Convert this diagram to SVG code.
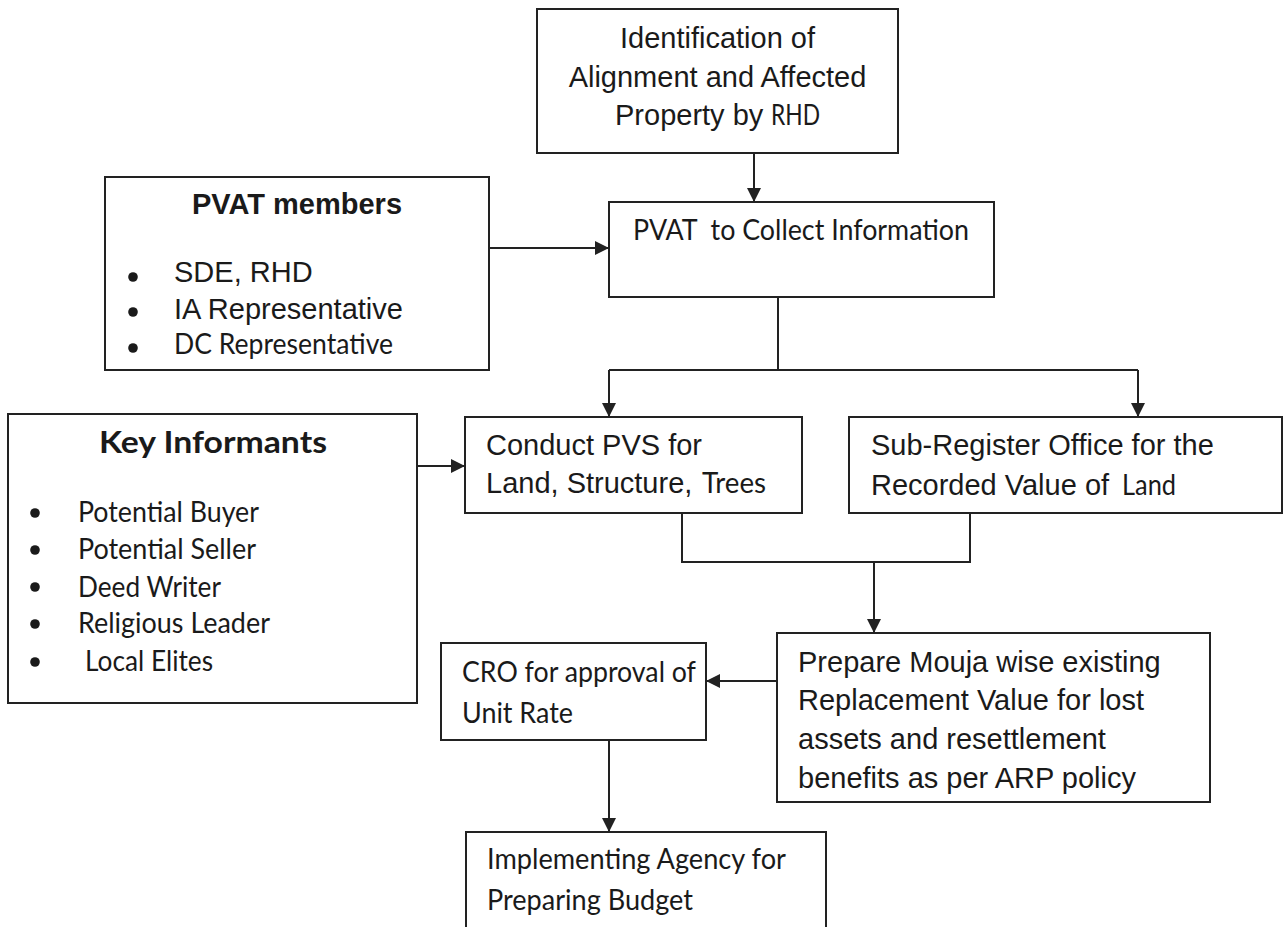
<svg xmlns="http://www.w3.org/2000/svg" width="1285" height="927" viewBox="0 0 1285 927">
<style>
.box{fill:#fff;stroke:#222;stroke-width:2}
.ln{fill:none;stroke:#222;stroke-width:2}
.a{font-family:"Liberation Sans",Arial,sans-serif;font-size:29px;fill:#1a1a1a}
.ab{font-family:"Liberation Sans",Arial,sans-serif;font-size:29px;font-weight:bold;fill:#1a1a1a}
.c{font-family:Lato,"Noto Sans",sans-serif;font-size:28px;fill:#1a1a1a}
.cb{font-family:Lato,"Noto Sans",sans-serif;font-size:31px;font-weight:bold;fill:#1a1a1a}
.dot{fill:#1a1a1a}
</style>
<defs>
<marker id="arr" markerUnits="userSpaceOnUse" markerWidth="14" markerHeight="14" refX="14" refY="7" orient="auto">
<path d="M0,0 L14,7 L0,14 z" fill="#222"/>
</marker>
</defs>
<g id="connectors">
<path class="ln" d="M754,153 V202" marker-end="url(#arr)"/>
<path class="ln" d="M489,248 H609" marker-end="url(#arr)"/>
<path class="ln" d="M778,297 V370 M609,370 H1138"/>
<path class="ln" d="M609,370 V417" marker-end="url(#arr)"/>
<path class="ln" d="M1138,370 V417" marker-end="url(#arr)"/>
<path class="ln" d="M417,466 H465" marker-end="url(#arr)"/>
<path class="ln" d="M682,513 V562 H970 V513"/>
<path class="ln" d="M874,562 V633" marker-end="url(#arr)"/>
<path class="ln" d="M777,681 H706" marker-end="url(#arr)"/>
<path class="ln" d="M609,740 V832" marker-end="url(#arr)"/>
</g>
<g id="identification">
<rect class="box" x="537" y="9" width="361" height="144"/>
<text class="a" x="717.5" y="48" text-anchor="middle">Identification of</text>
<text class="a" x="717.5" y="87" text-anchor="middle">Alignment and Affected</text>
<text class="a" x="615" y="125">Property by</text>
<text class="c" x="771" y="125" font-size="27" textLength="49" lengthAdjust="spacingAndGlyphs">RHD</text>
</g>
<g id="pvat-members">
<rect class="box" x="105" y="177" width="384" height="193"/>
<text class="ab" x="297" y="214" text-anchor="middle">PVAT members</text>
<circle class="dot" cx="133" cy="277" r="4.8"/>
<circle class="dot" cx="133" cy="312" r="4.8"/>
<circle class="dot" cx="133" cy="348" r="4.8"/>
<text class="a" x="174" y="282">SDE, RHD</text>
<text class="a" x="174" y="319">IA Representative</text>
<text class="c" x="174" y="354" font-size="27" textLength="219" lengthAdjust="spacingAndGlyphs">DC Representative</text>
</g>
<g id="pvat-collect">
<rect class="box" x="609" y="202" width="385" height="95"/>
<text class="c" x="633" y="240" xml:space="preserve" style="white-space:pre" textLength="336" lengthAdjust="spacingAndGlyphs">PVAT  to Collect Information</text>
</g>
<g id="key-informants">
<rect class="box" x="8" y="414" width="409" height="289"/>
<text class="cb" x="99" y="453" textLength="228" lengthAdjust="spacingAndGlyphs">Key Informants</text>
<circle class="dot" cx="35" cy="513" r="4.8"/>
<circle class="dot" cx="35" cy="550" r="4.8"/>
<circle class="dot" cx="35" cy="587" r="4.8"/>
<circle class="dot" cx="35" cy="624" r="4.8"/>
<circle class="dot" cx="35" cy="662" r="4.8"/>
<text class="c" x="78" y="522" font-size="29" textLength="181" lengthAdjust="spacingAndGlyphs">Potential Buyer</text>
<text class="c" x="78" y="559" font-size="29" textLength="178" lengthAdjust="spacingAndGlyphs">Potential Seller</text>
<text class="c" x="78" y="597" font-size="29" textLength="143" lengthAdjust="spacingAndGlyphs">Deed Writer</text>
<text class="c" x="78" y="633" font-size="29" textLength="192" lengthAdjust="spacingAndGlyphs">Religious Leader</text>
<text class="c" x="85" y="671" font-size="29" textLength="128" lengthAdjust="spacingAndGlyphs">Local Elites</text>
</g>
<g id="conduct-pvs">
<rect class="box" x="465" y="417" width="337" height="96"/>
<text class="a" x="486" y="455">Conduct PVS for</text>
<text class="a" x="486" y="493">Land, Structure,</text>
<text class="c" x="702" y="493" font-size="27" textLength="64" lengthAdjust="spacingAndGlyphs">Trees</text>
</g>
<g id="sub-register">
<rect class="box" x="849" y="417" width="433" height="96"/>
<text class="a" x="871" y="455">Sub-Register Office for the</text>
<text class="a" x="871" y="495">Recorded Value of</text>
<text class="c" x="1122" y="495" font-size="27" textLength="54" lengthAdjust="spacingAndGlyphs">Land</text>
</g>
<g id="prepare">
<rect class="box" x="777" y="633" width="433" height="169"/>
<text class="a" x="798" y="672">Prepare Mouja wise existing</text>
<text class="a" x="798" y="710">Replacement Value for lost</text>
<text class="a" x="798" y="749">assets and resettlement</text>
<text class="a" x="798" y="788">benefits as per ARP policy</text>
</g>
<g id="cro">
<rect class="box" x="441" y="643" width="265" height="97"/>
<text class="c" x="462" y="682" textLength="234" lengthAdjust="spacingAndGlyphs">CRO for approval of</text>
<text class="c" x="462" y="723" textLength="111" lengthAdjust="spacingAndGlyphs">Unit Rate</text>
</g>
<g id="implementing">
<rect class="box" x="466" y="832" width="360" height="110"/>
<text class="c" x="487" y="869" textLength="299" lengthAdjust="spacingAndGlyphs">Implementing Agency for</text>
<text class="c" x="487" y="910" textLength="206" lengthAdjust="spacingAndGlyphs">Preparing Budget</text>
</g>
</svg>
